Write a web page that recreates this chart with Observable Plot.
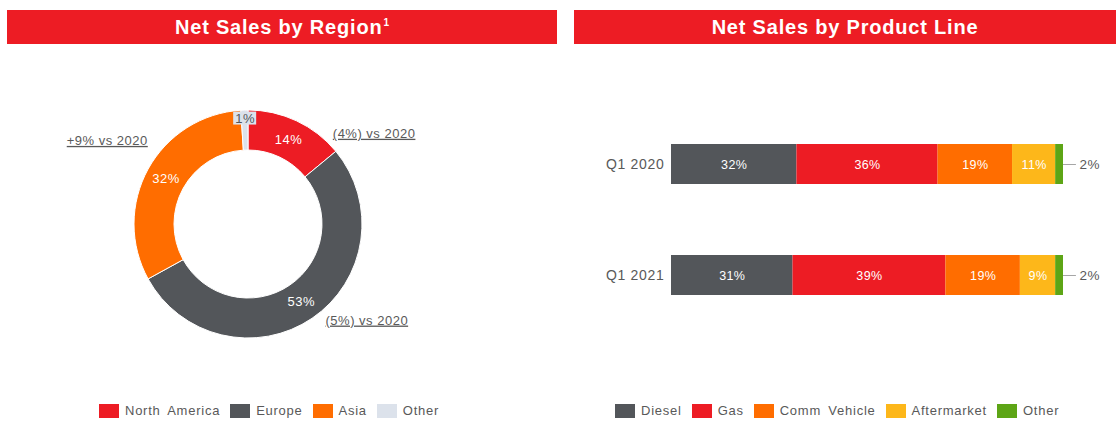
<!DOCTYPE html>
<html>
<head>
<meta charset="utf-8">
<script src="https://cdn.jsdelivr.net/npm/d3@7"></script>
<script src="https://cdn.jsdelivr.net/npm/@observablehq/plot@0.6"></script>
<style>
  html, body { margin: 0; padding: 0; background: #fff; }
  #root { position: relative; width: 1116px; height: 421px; overflow: hidden; font-family: "Liberation Sans", Arial, sans-serif; }
  .hdr { position: absolute; top: 10px; height: 34px; background: #ED1C24; color: #fff; font-weight: bold; font-size: 20px; letter-spacing: 0.8px; text-align: center; line-height: 35px; }
  .hdr sup { font-size: 10px; vertical-align: 0; position: relative; top: -8px; margin-left: 1px; letter-spacing: 0; }
  #plotL { position: absolute; left: 0; top: 50px; }
  #plotR { position: absolute; left: 574px; top: 50px; }
  #legL, #legR { position: absolute; top: 403px; }
  #legL { left: 99px; }
  #legR { left: 615px; }
  #legL div, #legR div { font: 13px "Liberation Sans", Arial, sans-serif !important; color: #595959 !important; letter-spacing: 0.75px; word-spacing: 3px; margin: 0 !important; min-height: 0 !important; white-space: nowrap; }
  #legL span, #legR span { margin-right: 10px !important; display: inline-flex; align-items: center; }
  #legL svg, #legR svg { margin-right: 6px !important; }
</style>
</head>
<body>
<div id="root">
  <div class="hdr" style="left:7px;width:550px;">Net Sales by Region<sup>1</sup></div>
  <div class="hdr" style="left:574px;width:542px;">Net Sales by Product Line</div>
  <div id="plotL"></div>
  <div id="plotR"></div>
  <div id="legL"></div>
  <div id="legR"></div>
</div>
<script>
// ---------- Data ----------
const regions = ["North America", "Europe", "Asia", "Other"];
const regionShares = [14, 53, 32, 1];
const regionChange = ["(4%) vs 2020", "(5%) vs 2020", "+9% vs 2020", ""];

const quarters = ["Q1 2020", "Q1 2021"];
const products = ["Diesel", "Gas", "Comm Vehicle", "Aftermarket", "Other"];
const productShares2020 = [32, 36, 19, 11, 2];
const productShares2021 = [31, 39, 19, 9, 2];

// ---------- Styles ----------
const regionColors = ["#ED1C24", "#53565A", "#FF6D00", "#DCE2EB"];
const productColors = ["#53565A", "#ED1C24", "#FF6D00", "#FDB71A", "#5DA516"];
const textGray = "#595959";
const fontFamily = "'Liberation Sans', Arial, sans-serif";

// ---------- Left: donut ----------
const regionData = regions.map((region, i) => ({region, share: regionShares[i], change: regionChange[i]}));
const regionColor = Plot.scale({color: {domain: regions, range: regionColors}});

const W_L = 557, H_L = 340;
const cx = 248, cy = 174, rOuter = 114, rInner = 74;
const pie = d3.pie().sort(null).value(d => d.share)(regionData);
const arc = d3.arc().innerRadius(rInner).outerRadius(rOuter);

function polar(angle, r) { return [cx + r * Math.sin(angle), cy - r * Math.cos(angle)]; }

const donutMark = () => {
  const g = d3.create("svg:g").attr("transform", `translate(${cx},${cy})`);
  g.selectAll("path").data(pie).join("path")
    .attr("d", arc)
    .attr("fill", d => regionColor.apply(d.data.region))
    .attr("stroke", "#fff")
    .attr("stroke-width", 1);
  return g.node();
};

// value labels
const sliceLabels = pie.map(p => {
  const mid = (p.startAngle + p.endAngle) / 2;
  const small = p.data.share < 5;
  const [x, y] = polar(mid, small ? 106 : (rInner + rOuter) / 2);
  return {x, y, text: `${p.data.share}%`, small};
});
// annotation placement (fraction along slice, radius, anchor)
const annLayout = {"North America": [0.85, 124, "start"], "Europe": [0.476, 123, "start"], "Asia": [0.595, 131, "end"]};
const annotations = pie.filter(p => p.data.change).map(p => {
  const [t, r, anchor] = annLayout[p.data.region];
  const [x, y] = polar(p.startAngle + t * (p.endAngle - p.startAngle), r);
  return {x, y, text: p.data.change, anchor};
});

const plotL = Plot.plot({
  width: W_L, height: H_L, margin: 0,
  x: {type: "identity", axis: null},
  y: {type: "identity", axis: null},
  style: {fontFamily, fontSize: "13px", color: textGray, background: "transparent", letterSpacing: "0.5px"},
  marks: [
    donutMark,
    Plot.rect(sliceLabels.filter(d => d.small), {x1: d => d.x - 11.5, x2: d => d.x + 11.5, y1: d => d.y - 6.5, y2: d => d.y + 6.5, fill: regionColors[3]}),
    Plot.text(sliceLabels, {x: "x", y: "y", text: "text", fill: d => d.small ? "#53565A" : "#fff", fontSize: 13}),
    Plot.text(annotations.filter(d => d.anchor === "start"), {x: "x", y: "y", text: "text", textAnchor: "start", fill: textGray, fontSize: 13}),
    Plot.text(annotations.filter(d => d.anchor === "end"), {x: "x", y: "y", text: "text", textAnchor: "end", fill: textGray, fontSize: 13})
  ]
});
d3.select(plotL).selectAll("text").filter(function() { return this.textContent.includes("vs 2020"); })
  .style("text-decoration", "underline");
document.getElementById("plotL").appendChild(plotL);

// ---------- Right: stacked bars ----------
const productData = quarters.flatMap((quarter, qi) =>
  products.map((product, pi) => ({quarter, product, value: [productShares2020, productShares2021][qi][pi]})));
const totals = quarters.map(q => ({quarter: q, total: d3.sum(productData.filter(d => d.quarter === q), d => d.value)}));

const plotR = Plot.plot({
  width: 542, height: 340,
  marginLeft: 97, marginRight: 53, marginTop: 22, marginBottom: 23,
  x: {domain: [0, 100], axis: null},
  y: {domain: quarters, padding: 0.64, label: null, tickSize: 0, tickPadding: 7},
  color: {domain: products, range: productColors},
  style: {fontFamily, fontSize: "13px", color: textGray, background: "transparent", letterSpacing: "0.4px"},
  marks: [
    Plot.barX(productData, Plot.stackX({x: "value", y: "quarter", fill: "product", order: null})),
    Plot.text(productData, Plot.stackX({x: "value", y: "quarter", z: "product", order: null,
      text: d => d.product === "Other" ? null : `${d.value}%`, fill: "#fff", fontSize: 12.5})),
    Plot.ruleY(totals, {y: "quarter", x1: d => d.total, x2: d => d.total + 3.3, stroke: "#A6A6A6", strokeWidth: 1}),
    Plot.text(productData, Plot.stackX2({x: "value", y: "quarter", z: "product", order: null,
      text: d => d.product === "Other" ? `${d.value}%` : null, textAnchor: "start", dx: 16, fill: textGray, fontSize: 13.5}))
  ]
});
// axis tick labels a bit larger
d3.select(plotR).selectAll("text").filter(function() { return quarters.includes(this.textContent); })
  .attr("font-size", 14).style("font-size", "14px").style("letter-spacing", "0.7px");
document.getElementById("plotR").appendChild(plotR);

// ---------- Legends ----------
document.getElementById("legL").appendChild(Plot.legend({
  color: {domain: regions, range: regionColors}, legend: "swatches", swatchWidth: 20, swatchHeight: 14, className: "lgl"
}));
document.getElementById("legR").appendChild(Plot.legend({
  color: {domain: products, range: productColors}, legend: "swatches", swatchWidth: 20, swatchHeight: 14, className: "lgr"
}));
</script>
</body>
</html>
